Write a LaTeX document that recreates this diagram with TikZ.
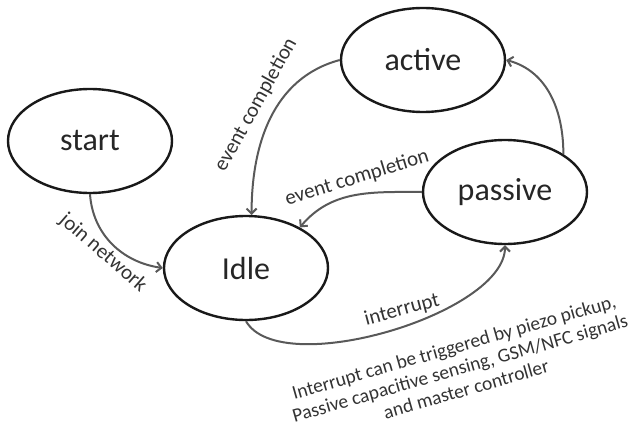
\documentclass[tikz,border=0pt]{standalone}
\usepackage{fontspec}
\setmainfont{Carlito}
\usetikzlibrary{arrows.meta,shapes.geometric}

\begin{document}
\begin{tikzpicture}[x=1pt,y=1pt,
  state/.style={draw=black!90,line width=2.4pt,ellipse,minimum width=164pt,minimum height=104pt,inner sep=0pt,font=\fontsize{32}{34}\selectfont,text=black!85},
  lbl/.style={font=\fontsize{21}{23}\selectfont,text=black!80,inner sep=0pt},
  note/.style={font=\fontsize{19.5}{22}\selectfont,text=black!80,inner sep=0pt,align=center},
  trans/.style={draw=black!65,line width=2pt,-{Straight Barb[length=5pt,width=10pt]}}]
 \useasboundingbox (0,0) rectangle (631,429);

  \draw (90,288) node[state] (start) {start};
  \draw (423,369) node[state] (active) {active};
    \draw (505,237) node[state] (passive) {passive};
    \draw (246,161) node[state] (Idle) {Idle};

  \draw (103,176) node[lbl,rotate=-41] (join) {join network};
  \draw (256,324) node[lbl,rotate=61] (done1) {event completion};
  \draw (357,251) node[lbl,rotate=17] (done2) {event completion};
  \draw (402,119) node[lbl,rotate=15] (irq) {interrupt};
  \draw (460,61) node[note,rotate=16] (irqnote) {Interrupt can be triggered by piezo pickup,\\Passive capacitive sensing, GSM/NFC signals\\and master controller};


     \path (start.south) edge[trans,out=-86,in=172] (Idle.west);
     \path (active.west) edge[trans,out=195,in=90] (Idle.84);
     \path (passive.west) edge[trans,out=180,in=50] (Idle.37);
     \path (passive.33) edge[trans,out=90,in=-15] (active.east);
     \path (Idle.south) edge[trans,out=-60,in=-90,looseness=0.65] (passive.south);

\end{tikzpicture}
\end{document}
